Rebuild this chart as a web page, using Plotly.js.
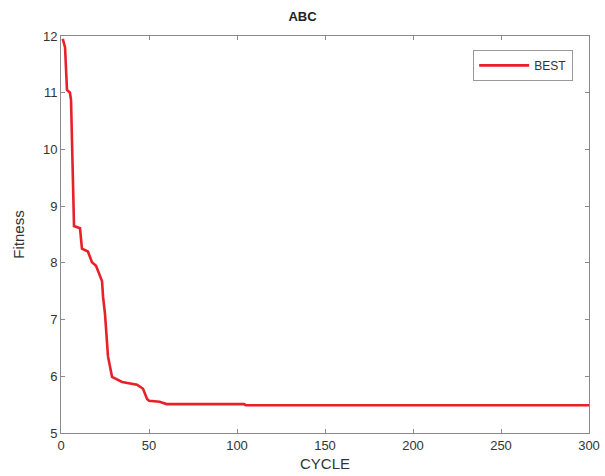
<!DOCTYPE html>
<html>
<head>
<meta charset="utf-8">
<script src="https://cdn.plot.ly/plotly-3.0.1.min.js"></script>
<style>html,body{margin:0;padding:0;background:#fff;}#chart{width:605px;height:476px;}</style>
</head>
<body>
<div id="chart"></div>
<script>
const cycle   = [1, 2.3, 3.4, 5.1, 5.7, 7.4, 10.8, 11.9, 15.3, 17.6, 19.9, 23.3, 23.9, 25, 26.7, 29, 34.7, 43.2, 46.6, 48.9, 50, 56, 60, 104, 105, 300];
const fitness = [11.95, 11.8, 11.05, 11.0, 10.87, 8.65, 8.61, 8.25, 8.2, 8.01, 7.95, 7.68, 7.4, 7.1, 6.35, 5.99, 5.9, 5.85, 5.78, 5.6, 5.57, 5.55, 5.51, 5.51, 5.49, 5.49];
const xTicks = [0, 50, 100, 150, 200, 250, 300];
const yTicks = [5, 6, 7, 8, 9, 10, 11, 12];

const axisCommon = {
  showline: true, linecolor: '#8a8a8a', linewidth: 1, mirror: 'ticks',
  ticks: 'inside', ticklen: 4, tickcolor: '#8a8a8a', showgrid: false, zeroline: false,
  tickfont: {family: 'Liberation Sans, Arial, sans-serif', size: 13, color: '#333'}
};

Plotly.newPlot('chart', [{
  x: cycle, y: fitness, type: 'scatter', mode: 'lines', name: 'BEST',
  line: {color: '#e8202a', width: 2.6, shape: 'linear'}
}], {
  width: 605, height: 476,
  margin: {l: 61, r: 16, t: 36, b: 43},
  paper_bgcolor: '#fff', plot_bgcolor: '#fff',
  title: {text: '<b>ABC</b>', x: 0.5, xanchor: 'center', y: 0.965, yanchor: 'middle',
          font: {family: 'Liberation Sans, Arial, sans-serif', size: 13, color: '#222'}},
  xaxis: Object.assign({}, axisCommon, {
    range: [0, 300], tickvals: xTicks, ticktext: xTicks.map(String),
    title: {text: 'CYCLE', standoff: 6, font: {family: 'Liberation Sans, Arial, sans-serif', size: 15, color: '#333'}}
  }),
  yaxis: Object.assign({}, axisCommon, {
    range: [5, 12], tickvals: yTicks, ticktext: yTicks.map(String),
    title: {text: 'Fitness', standoff: 14, font: {family: 'Liberation Sans, Arial, sans-serif', size: 15, color: '#333'}}
  }),
  showlegend: true,
  legend: {x: 0.97, y: 0.965, xanchor: 'right', yanchor: 'top', bgcolor: '#fff',
           bordercolor: '#999', borderwidth: 1, itemwidth: 50,
           font: {family: 'Liberation Sans, Arial, sans-serif', size: 12, color: '#333'}}
}, {displayModeBar: false, staticPlot: true});
</script>
</body>
</html>
